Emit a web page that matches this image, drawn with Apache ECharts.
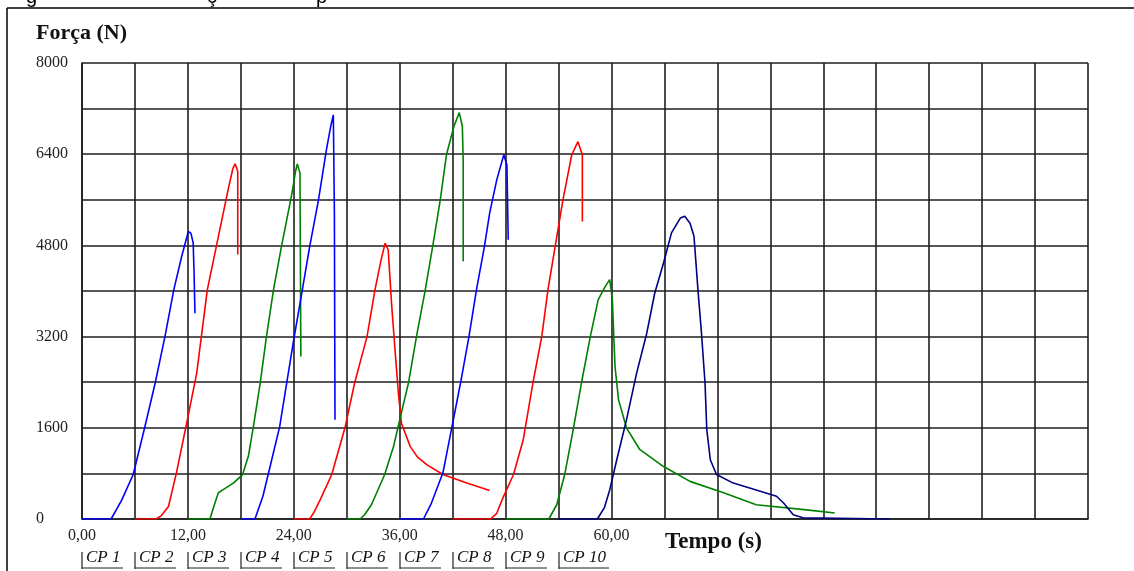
<!DOCTYPE html>
<html><head><meta charset="utf-8">
<script src="https://cdn.jsdelivr.net/npm/echarts@6/dist/echarts.min.js"></script>
<style>html,body{margin:0;padding:0;background:#fff}#c{width:1134px;height:571px}</style>
</head><body><div id="c"></div>
<script>
// ---- tick labels / categories ----
const xTickLabels = ['0,00', '12,00', '24,00', '36,00', '48,00', '60,00'];
const yTickLabels = ['0', '1600', '3200', '4800', '6400', '8000'];
const cpNames = ['CP 1', 'CP 2', 'CP 3', 'CP 4', 'CP 5', 'CP 6', 'CP 7', 'CP 8', 'CP 9', 'CP 10'];
const cpColors = ['#0000ff', '#ff0000', '#008000', '#0000ff', '#ff0000', '#008000', '#0000ff', '#ff0000', '#008000', '#000080'];
const cpStart = [0, 6, 12, 18, 24, 30, 36, 42, 48, 54];

// ---- series values: time (s) and force (N) ----
const cp1Time  = [0, 3.3, 4.5, 5.8, 7.1, 8.3, 9.4, 10.4, 11.3, 11.8, 12.05, 12.35, 12.6, 12.7, 12.8];
const cp1Force = [0, 0, 330, 780, 1600, 2390, 3200, 4020, 4610, 4900, 5045, 5010, 4840, 4320, 3610];

const cp2Time  = [6, 8.4, 9.0, 9.8, 10.7, 11.9, 13.0, 14.2, 15.3, 16.6, 17.1, 17.35, 17.65, 17.65];
const cp2Force = [0, 0, 60, 220, 810, 1710, 2560, 4020, 4840, 5810, 6150, 6230, 6100, 4640];

const cp3Time  = [12, 14.5, 15.0, 15.45, 16.0, 17.15, 18.2, 18.85, 19.4, 20.2, 20.9, 21.7, 22.6, 23.8, 24.2, 24.4, 24.7, 24.8];
const cp3Force = [0, 0, 250, 460, 515, 630, 780, 1100, 1600, 2390, 3200, 4020, 4780, 5720, 6100, 6230, 6070, 2850];

const cp4Time  = [18, 19.6, 20.5, 21.5, 22.4, 23.2, 24.0, 24.9, 25.8, 26.8, 27.7, 28.2, 28.48, 28.6, 28.67];
const cp4Force = [0, 0, 400, 1040, 1620, 2390, 3150, 3960, 4780, 5600, 6480, 6900, 7090, 5400, 1740];

const cp5Time  = [24, 25.8, 26.3, 27.0, 28.3, 29.8, 30.9, 32.3, 33.2, 33.9, 34.35, 34.7, 35.1, 35.5, 35.85, 36.2, 37.2, 38.0, 39.1, 40.9, 43.6, 46.2];
const cp5Force = [0, 0, 120, 340, 780, 1600, 2390, 3200, 4020, 4550, 4840, 4720, 3730, 2910, 2210, 1680, 1270, 1090, 950, 780, 630, 500];

const cp6Time  = [30, 31.5, 32.0, 32.8, 34.3, 35.3, 36.0, 37.0, 37.9, 38.9, 39.8, 40.6, 41.3, 42.15, 42.75, 43.1, 43.2, 43.2];
const cp6Force = [0, 0, 70, 250, 780, 1270, 1740, 2390, 3200, 4020, 4840, 5600, 6390, 6890, 7130, 6890, 6270, 4520];

const cp7Time  = [36, 38.7, 39.6, 40.9, 41.9, 42.9, 43.85, 44.7, 45.6, 46.2, 47.0, 47.8, 48.15, 48.3];
const cp7Force = [0, 0, 280, 810, 1600, 2390, 3200, 4020, 4780, 5370, 5950, 6390, 6210, 4900];

const cp8Time  = [42, 46.3, 47.0, 47.7, 48.9, 50.0, 51.1, 52.1, 52.8, 53.8, 54.5, 55.5, 56.2, 56.7, 56.7];
const cp8Force = [0, 0, 100, 370, 780, 1390, 2390, 3200, 4020, 4950, 5600, 6390, 6620, 6390, 5220];

const cp9Time  = [48, 52.9, 53.8, 54.7, 55.7, 56.6, 57.6, 58.5, 59.3, 59.8, 60.1, 60.4, 60.8, 61.7, 63.2, 65.9, 68.9, 72.7, 76.4, 82.1, 85.3];
const cp9Force = [0, 0, 250, 780, 1600, 2390, 3200, 3850, 4080, 4200, 3850, 2680, 2090, 1600, 1220, 920, 660, 460, 250, 160, 105];

const cp10Time  = [54, 58.4, 59.2, 59.8, 60.6, 61.7, 62.85, 64.0, 64.9, 65.9, 66.8, 67.8, 68.3, 68.9, 69.35, 69.8, 70.2, 70.6, 70.8, 71.2, 71.9, 73.8, 76.4, 78.7, 79.5, 80.6, 81.7, 91.5];
const cp10Force = [0, 0, 200, 510, 1040, 1740, 2560, 3260, 3960, 4490, 5020, 5280, 5310, 5190, 4960, 4020, 3260, 2390, 1570, 1040, 780, 630, 510, 400, 280, 75, 20, 0];

const cpTimes  = [cp1Time, cp2Time, cp3Time, cp4Time, cp5Time, cp6Time, cp7Time, cp8Time, cp9Time, cp10Time];
const cpForces = [cp1Force, cp2Force, cp3Force, cp4Force, cp5Force, cp6Force, cp7Force, cp8Force, cp9Force, cp10Force];

const serif = '"Liberation Serif", "Times New Roman", serif';
const gridColor = '#1e1e1e';

const chart = echarts.init(document.getElementById('c'), null, { renderer: 'canvas' });

const series = cpNames.map((name, i) => ({
  name: name,
  type: 'line',
  data: cpTimes[i].map((t, j) => [t, cpForces[i][j]]),
  showSymbol: false,
  symbol: 'none',
  lineStyle: { color: cpColors[i], width: 1.6 },
  itemStyle: { color: cpColors[i] },
  z: 3 + i,
  animation: false
}));

chart.setOption({
  animation: false,
  backgroundColor: '#ffffff',
  grid: { left: 82, right: 46, top: 63, bottom: 52, outerBoundsMode: 'none', containLabel: false },
  xAxis: {
    type: 'value', min: 0, max: 114, interval: 6,
    axisLine: { show: true, lineStyle: { color: gridColor, width: 1.6 } },
    axisTick: { show: false },
    splitLine: { show: true, lineStyle: { color: gridColor, width: 1.6 } },
    axisLabel: {
      margin: 9, color: '#222', fontFamily: serif, fontSize: 16,
      formatter: v => { const k = v / 12; return (Number.isInteger(k) && k < xTickLabels.length) ? xTickLabels[k] : ''; }
    }
  },
  yAxis: {
    type: 'value', min: 0, max: 8000, interval: 800,
    axisLine: { show: true, lineStyle: { color: gridColor, width: 1.6 } },
    axisTick: { show: false },
    splitLine: { show: true, lineStyle: { color: gridColor, width: 1.6 } },
    axisLabel: {
      margin: 46, align: 'left', color: '#222', fontFamily: serif, fontSize: 16,
      formatter: v => { const k = v / 1600; return (Number.isInteger(k) && k < yTickLabels.length) ? yTickLabels[k] : ''; }
    }
  },
  series: series
});

// ---- decorations: frame, titles, CP labels ----
const graphics = [
  { type: 'line', shape: { x1: 7, y1: 8, x2: 7, y2: 571 }, style: { stroke: '#000', lineWidth: 1.5 } },
  { type: 'line', shape: { x1: 7, y1: 8, x2: 1134, y2: 8 }, style: { stroke: '#000', lineWidth: 1.5 } },
  { type: 'text', x: 36, y: 33, style: { text: 'Força (N)', font: 'bold 22px ' + serif, fill: '#111', verticalAlign: 'middle', align: 'left' } },
  { type: 'text', x: 665, y: 542, style: { text: 'Tempo (s)', font: 'bold 23px ' + serif, fill: '#111', verticalAlign: 'middle', align: 'left' } },
  // descenders of a caption line cut off above the frame
  { type: 'text', x: 26, y: -13, style: { text: 'g', font: '20px "Liberation Sans", Arial, sans-serif', fill: '#000', verticalAlign: 'top' } },
  { type: 'text', x: 207, y: -13, style: { text: 'ç', font: '20px "Liberation Sans", Arial, sans-serif', fill: '#000', verticalAlign: 'top' } },
  { type: 'text', x: 316, y: -13, style: { text: 'p', font: '20px "Liberation Sans", Arial, sans-serif', fill: '#000', verticalAlign: 'top' } }
];
cpNames.forEach((name, i) => {
  const x0 = Math.round(chart.convertToPixel({ xAxisIndex: 0 }, cpStart[i]));
  const w = name.length > 4 ? 50 : 41;
  graphics.push({ type: 'line', shape: { x1: x0, y1: 552, x2: x0, y2: 569 }, style: { stroke: '#222', lineWidth: 1.2 } });
  graphics.push({ type: 'line', shape: { x1: x0, y1: 568, x2: x0 + w, y2: 568 }, style: { stroke: '#222', lineWidth: 1.2 } });
  graphics.push({ type: 'text', x: x0 + 4, y: 558, style: { text: name, font: 'italic 17px ' + serif, fill: '#111', verticalAlign: 'middle', align: 'left' } });
});
chart.setOption({ graphic: graphics });
</script>
</body></html>
